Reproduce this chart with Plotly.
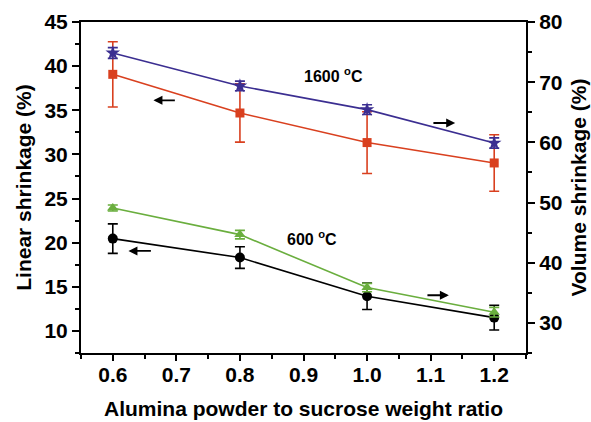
import plotly.graph_objects as go

ratio = [0.6, 0.8, 1.0, 1.2]

lin_1600 = [39.07, 34.69, 31.34, 29.03]
lin_1600_err = [3.7, 3.3, 3.5, 3.2]
vol_1600 = [74.85, 69.37, 65.44, 59.89]
vol_1600_err = [0.9, 0.8, 0.8, 0.85]

lin_600 = [20.46, 18.31, 13.92, 11.51]
lin_600_err = [1.67, 1.22, 1.5, 1.4]
vol_600 = [49.09, 44.67, 35.87, 31.78]
vol_600_err = [0.5, 0.7, 0.7, 0.8]

FONT = "Liberation Sans, Arial, sans-serif"
RED = "#D9401F"
BLUE = "#3B2E91"
GREEN = "#6AAE3E"
BLACK = "#000000"

fig = go.Figure()

def add(y, err, color, symbol, size, yaxis):
    fig.add_trace(go.Scatter(
        x=ratio, y=y, mode="lines+markers", yaxis=yaxis,
        line=dict(color=color, width=1.6),
        marker=dict(color=color, symbol=symbol, size=size),
        error_y=dict(type="data", array=err, visible=True, color=color,
                     thickness=1.6, width=5),
        showlegend=False,
    ))

add(lin_1600, lin_1600_err, RED, "square", 9, "y")
add(vol_1600, vol_1600_err, BLUE, "star", 11, "y2")
add(vol_600, vol_600_err, GREEN, "triangle-up", 10, "y2")
add(lin_600, lin_600_err, BLACK, "circle", 10, "y")

tickfont = dict(family=FONT, size=21, color="black", weight="bold")
titlefont = dict(family=FONT, size=21, color="black", weight="bold")

fig.update_layout(
    width=591, height=422,
    margin=dict(l=81, r=65, t=22, b=69),
    paper_bgcolor="white", plot_bgcolor="white",
    xaxis=dict(
        range=[0.55, 1.25], tickmode="array",
        tickvals=[0.6, 0.7, 0.8, 0.9, 1.0, 1.1, 1.2],
        ticktext=["0.6", "0.7", "0.8", "0.9", "1.0", "1.1", "1.2"],
        ticks="outside", ticklen=6, tickwidth=1.5, tickcolor="black",
        ticklabelstandoff=-4,
        minor=dict(tickvals=[0.55, 0.65, 0.75, 0.85, 0.95, 1.05, 1.15, 1.25],
                   ticks="outside", ticklen=4, tickwidth=1.5, tickcolor="black"),
        showline=True, linecolor="black", linewidth=2, mirror=True,
        showgrid=False, zeroline=False, tickfont=tickfont,
        title=dict(text="Alumina powder to sucrose weight ratio", font=titlefont, standoff=16),
        automargin=False,
    ),
    yaxis=dict(
        range=[7.5, 45], tickmode="array",
        tickvals=[10, 15, 20, 25, 30, 35, 40, 45],
        ticks="outside", ticklen=7, tickwidth=1.5, tickcolor="black",
        minor=dict(tickvals=[7.5, 12.5, 17.5, 22.5, 27.5, 32.5, 37.5, 42.5],
                   ticks="outside", ticklen=4, tickwidth=1.5, tickcolor="black"),
        showline=True, linecolor="black", linewidth=2,
        showgrid=False, zeroline=False, tickfont=tickfont,
        title=dict(text="Linear shrinkage (%)", font=titlefont, standoff=7),
        automargin=False,
    ),
    yaxis2=dict(
        range=[25, 80], overlaying="y", side="right", tickmode="array",
        tickvals=[30, 40, 50, 60, 70, 80],
        ticks="outside", ticklen=7, tickwidth=1.5, tickcolor="black",
        minor=dict(tickvals=[25, 35, 45, 55, 65, 75],
                   ticks="outside", ticklen=4, tickwidth=1.5, tickcolor="black"),
        showline=True, linecolor="black", linewidth=2,
        showgrid=False, zeroline=False, tickfont=tickfont,
        title=dict(text="Volume shrinkage (%)", font=titlefont, standoff=10),
        automargin=False,
    ),
)

# text labels
labels = [("1600 <sup>o</sup>C", 0.9466, 38.96), ("600 <sup>o</sup>C", 0.9136, 20.5)]
for txt, x, y in labels:
    fig.add_annotation(x=x, y=y, xref="x", yref="y", text=txt, showarrow=False,
                       font=dict(family=FONT, size=16, color="black", weight="bold"))

# arrows: (head_x, head_y, tail_x, tail_y) in left-axis data units
arrows = [
    (0.6639, 36.13, 0.7000, 36.13),
    (1.1386, 33.56, 1.1020, 33.56),
    (0.6246, 19.06, 0.6623, 19.06),
    (1.1287, 14.04, 1.0926, 14.04),
]
for hx, hy, tx, ty in arrows:
    fig.add_annotation(x=hx, y=hy, ax=tx, ay=ty, xref="x", yref="y",
                       axref="x", ayref="y", text="", showarrow=True,
                       arrowhead=2, arrowsize=1, arrowwidth=1.8, arrowcolor="black")

fig.write_html("out.html")
